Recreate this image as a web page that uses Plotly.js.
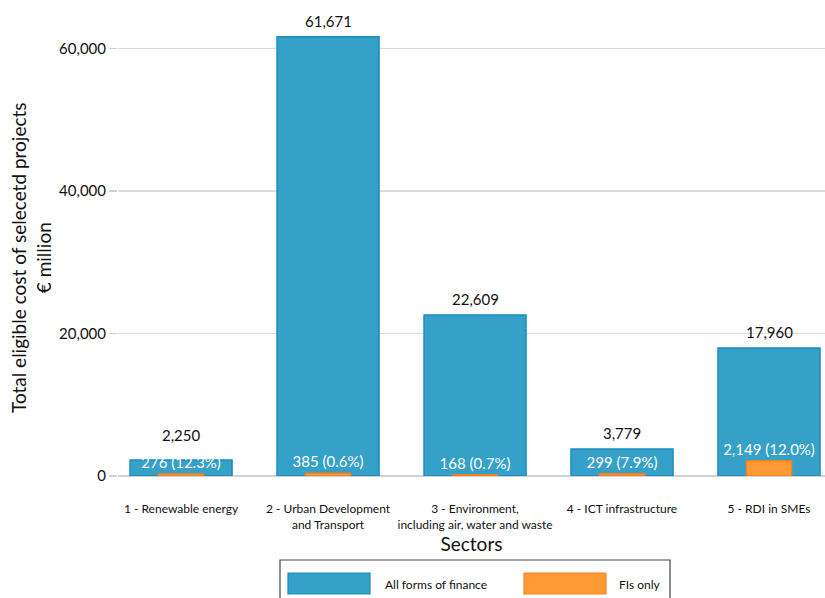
<!DOCTYPE html>
<html><head><meta charset="utf-8">
<script src="https://cdn.plot.ly/plotly-3.0.1.min.js"></script>
<style>html,body{margin:0;padding:0;background:#fff}</style>
</head><body>
<div id="chart" style="width:825px;height:598px"></div>
<script>
var categories = ["1 - Renewable energy", "2 - Urban Development<br>and Transport", "3 - Environment,<br>including air, water and waste", "4 - ICT infrastructure", "5 - RDI in SMEs"];
var allFinance = [2250, 61671, 22609, 3779, 17960];
var fisOnly = [276, 385, 168, 299, 2149];
var fisShare = ["12.3%", "0.6%", "0.7%", "7.9%", "12.0%"];
var seriesNames = ["All forms of finance", "FIs only"];
var yTitle = "Total eligible cost of selecetd projects<br>€ million";

var FONT = "Lato, 'Open Sans', sans-serif";
var Y_MAX = 66000, PLOT_H = 470;
var xIdx = categories.map(function(c, i){ return i; });
function fmt(v){ return v.toLocaleString('en-US'); }

var traces = [
  {type:'bar', name: seriesNames[0], x: xIdx, y: allFinance, width: 0.694,
   marker:{color:'#35a1c9', line:{color:'#1b8cc0', width:1.5}},
   showlegend:false, hoverinfo:'none'},
  {type:'bar', name: seriesNames[1], x: xIdx, y: fisOnly, width: 0.306,
   marker:{color:'#ff9a35', line:{color:'#f5821f', width:1.5}},
   text: fisOnly.map(function(v,i){ return fmt(v) + ' (' + fisShare[i] + ')'; }),
   textposition:'outside', cliponaxis:false, constraintext:'none',
   textfont:{family:FONT, size:15, color:'#ffffff'}, showlegend:false, hoverinfo:'none'}
];

// value labels above the blue bars, lifted above the white FI label when that one is taller
var liftData = 23 * Y_MAX / PLOT_H;
var valueLabels = xIdx.map(function(i){
  return {xref:'x', yref:'y', x:i, y:Math.max(allFinance[i], fisOnly[i] + liftData),
          yanchor:'bottom', xanchor:'center', yshift:5, showarrow:false,
          text: fmt(allFinance[i]), font:{family:FONT, size:15, color:'#111'}};
});

var layout = {
  width:825, height:598,
  margin:{l:118, r:0, t:6, b:122},
  paper_bgcolor:'#fff', plot_bgcolor:'#fff',
  barmode:'overlay',
  font:{family:FONT, color:'#111'},
  xaxis:{range:[-0.429, 4.381], tickmode:'array', tickvals:xIdx, ticktext:categories,
         showgrid:false, zeroline:false, showline:false, ticks:'', ticklabelstandoff:24,
         tickfont:{family:FONT, size:12, color:'#111'},
         title:{text:'Sectors', font:{family:FONT, size:19, color:'#111'}, standoff:2}},
  yaxis:{range:[0, Y_MAX], tickvals:[0,20000,40000,60000], ticktext:['0','20,000','40,000','60,000'],
         showgrid:true, gridcolor:'#dcdcdc', gridwidth:1.5, zeroline:true, zerolinecolor:'#d0d0d0', zerolinewidth:1.5,
         ticks:'outside', ticklen:8, tickcolor:'#d0d0d0', tickwidth:1.5,
         tickfont:{family:FONT, size:15, color:'#111'}},
  shapes:[
    {type:'rect', xref:'paper', yref:'paper', x0:(280-118)/707, x1:(670-118)/707, y0:-(560-476)/470, y1:-(610-476)/470,
     line:{color:'#444', width:1.2}, fillcolor:'rgba(0,0,0,0)'},
    {type:'rect', xref:'paper', yref:'paper', x0:(288-118)/707, x1:(370-118)/707, y0:-(573-476)/470, y1:-(594-476)/470,
     line:{color:'#1b8cc0', width:1.2}, fillcolor:'#35a1c9'},
    {type:'rect', xref:'paper', yref:'paper', x0:(524-118)/707, x1:(606-118)/707, y0:-(573-476)/470, y1:-(594-476)/470,
     line:{color:'#f5821f', width:1.2}, fillcolor:'#ff9a35'}
  ],
  annotations:[
    {xref:'paper', yref:'paper', x:(31-118)/707, y:(476-258)/470, xanchor:'center', yanchor:'middle', showarrow:false,
     textangle:-90, text: yTitle, font:{family:FONT, size:19, color:'#111'}},
    {xref:'paper', yref:'paper', x:(383-118)/707, y:-(584-476)/470, xanchor:'left', yanchor:'middle', showarrow:false,
     text: seriesNames[0], font:{family:FONT, size:12, color:'#111'}},
    {xref:'paper', yref:'paper', x:(617-118)/707, y:-(584-476)/470, xanchor:'left', yanchor:'middle', showarrow:false,
     text: seriesNames[1], font:{family:FONT, size:12, color:'#111'}}
  ].concat(valueLabels)
};
Plotly.newPlot('chart', traces, layout, {displayModeBar:false, staticPlot:true});
</script>
</body></html>
